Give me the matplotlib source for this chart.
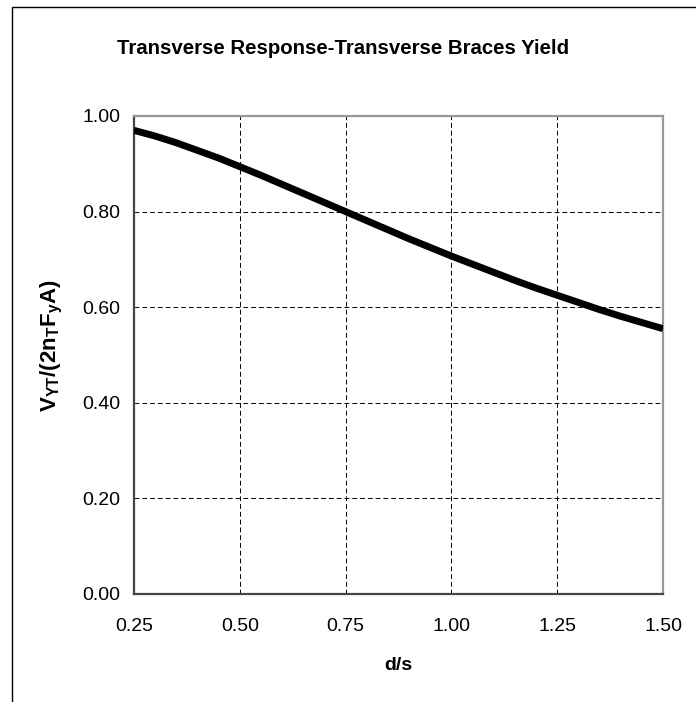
import matplotlib
matplotlib.use("Agg")
import matplotlib.pyplot as plt
from matplotlib.lines import Line2D

# d/s ratio and normalised transverse yield shear
d_over_s = [0.25, 0.30, 0.35, 0.40, 0.45, 0.50, 0.55, 0.60, 0.65, 0.70,
            0.75, 0.80, 0.85, 0.90, 0.95, 1.00, 1.05, 1.10, 1.15, 1.20,
            1.25, 1.30, 1.35, 1.40, 1.45, 1.50]
v_ratio = [0.970, 0.958, 0.944, 0.928, 0.912, 0.894, 0.876, 0.857, 0.838, 0.819,
           0.800, 0.781, 0.762, 0.743, 0.725, 0.707, 0.690, 0.673, 0.656, 0.640,
           0.625, 0.610, 0.595, 0.581, 0.568, 0.555]

x_ticks = [0.25, 0.50, 0.75, 1.00, 1.25, 1.50]
y_ticks = [0.00, 0.20, 0.40, 0.60, 0.80, 1.00]

plt.rcParams['font.family'] = ['Liberation Sans', 'DejaVu Sans']
plt.rcParams['mathtext.fontset'] = 'custom'
plt.rcParams['mathtext.bf'] = 'Liberation Sans:bold'
plt.rcParams['mathtext.rm'] = 'Liberation Sans:bold'

fig = plt.figure(figsize=(6.96, 7.02), dpi=100)
ax = fig.add_axes([134 / 696, 1 - 594 / 702, (663 - 134) / 696, (594 - 116) / 702])

ax.plot(d_over_s, v_ratio, color='black', linewidth=5, solid_capstyle='butt', zorder=3)

ax.set_xlim(0.25, 1.50)
ax.set_ylim(0.0, 1.0)
ax.set_xticks(x_ticks)
ax.set_yticks(y_ticks)
ax.set_xticklabels(['%.2f' % t for t in x_ticks])
ax.set_yticklabels(['%.2f' % t for t in y_ticks])
ax.tick_params(length=0, labelsize=14)
ax.tick_params(axis='x', pad=17)
ax.tick_params(axis='y', pad=10)

ax.grid(True, color='black', linestyle=(0, (5, 3)), linewidth=0.7)
ax.set_axisbelow(True)

for side in ['top', 'right']:
    ax.spines[side].set_color('#999999')
    ax.spines[side].set_linewidth(1.6)
for side in ['left', 'bottom']:
    ax.spines[side].set_color('#444444')
    ax.spines[side].set_linewidth(1.6)

ax.set_xlabel('d/s', fontsize=14, fontweight='bold', labelpad=16)
ax.set_ylabel(r'$\mathbf{V_{YT}/(2n_{T}F_{y}A)}$', fontsize=16)
ax.yaxis.set_label_coords(-0.13, 0.52)

fig.text(343 / 696, 1 - 48 / 702, 'Transverse Response-Transverse Braces Yield',
         ha='center', va='center', fontsize=14.7, fontweight='bold')

# outer chart-area border (top and left edges visible)
fig.add_artist(Line2D([12 / 696, 12 / 696, 1.0], [0.0, 1 - 7 / 702, 1 - 7 / 702],
                      transform=fig.transFigure, color='black', linewidth=1))

fig.savefig('out.png', dpi=100)
